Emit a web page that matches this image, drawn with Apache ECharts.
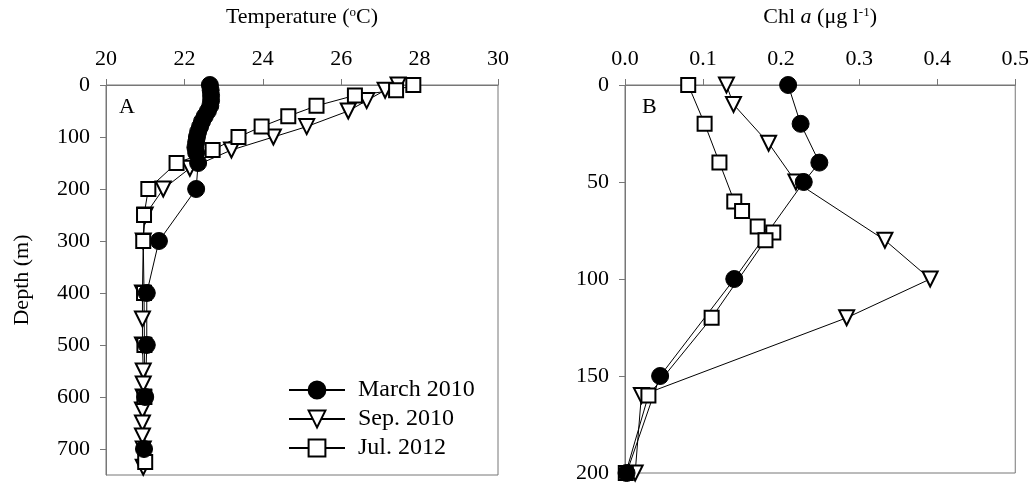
<!DOCTYPE html>
<html>
<head>
<meta charset="utf-8">
<script src="https://cdn.jsdelivr.net/npm/echarts@6/dist/echarts.min.js"></script>
<style>html,body{margin:0;padding:0;background:#fff}#c{width:1032px;height:484px}</style>
</head>
<body>
<div id="c"></div>
<script>
// ---- Data ----
const seriesNames = ['March 2010', 'Sep. 2010', 'Jul. 2012'];
const tempTicks = [20, 22, 24, 26, 28, 30];
const depthTicksA = [0, 100, 200, 300, 400, 500, 600, 700];
const chlTicks = [0.0, 0.1, 0.2, 0.3, 0.4, 0.5];
const depthTicksB = [0, 50, 100, 150, 200];

// Panel A: temperature (°C) vs depth (m)
const marchTemp = [22.65, 22.67, 22.68, 22.68, 22.66, 22.60, 22.52, 22.45, 22.40, 22.35, 22.32, 22.30, 22.28, 22.30, 22.35, 22.30, 21.35, 21.04, 21.04, 21.00, 20.97];
const marchTempDepth = [0, 10, 20, 30, 40, 50, 60, 70, 80, 90, 100, 110, 120, 130, 150, 200, 300, 400, 500, 600, 700];
const sepTemp = [27.45, 27.12, 26.65, 26.18, 25.12, 24.27, 23.20, 22.14, 21.46, 21.00, 20.95, 20.93, 20.93, 20.93, 20.95, 20.95, 20.95, 20.93, 20.93, 20.93, 20.95, 20.95];
const sepTempDepth = [0, 10, 30, 50, 80, 100, 125, 160, 200, 250, 300, 400, 450, 500, 550, 575, 600, 625, 650, 675, 700, 735];
const julTemp = [27.84, 27.40, 26.35, 25.37, 24.65, 23.97, 23.38, 22.72, 21.80, 21.08, 20.97, 20.95, 20.97, 20.98, 20.98, 21.00];
const julTempDepth = [0, 10, 20, 40, 60, 80, 100, 125, 150, 200, 250, 300, 400, 500, 600, 725];

// Panel B: Chl a (µg l-1) vs depth (m)
const marchChl = [0.209, 0.225, 0.249, 0.229, 0.140, 0.045, 0.002];
const marchChlDepth = [0, 20, 40, 50, 100, 150, 200];
const sepChl = [0.130, 0.139, 0.184, 0.219, 0.333, 0.391, 0.284, 0.021, 0.013];
const sepChlDepth = [0, 10, 30, 50, 80, 100, 120, 160, 200];
const julChl = [0.081, 0.102, 0.121, 0.140, 0.150, 0.170, 0.190, 0.180, 0.111, 0.030, 0.001];
const julChlDepth = [0, 20, 40, 60, 65, 73, 76, 80, 120, 160, 200];

// ---- Chart ----
const FONT = 'Liberation Serif';
const AXIS_COLOR = '#777';
const pair = (xs, ys) => xs.map((v, i) => [v, ys[i]]);

const styles = {
  'March 2010': { symbol: 'circle', symbolSize: 17, symbolRotate: 0, fill: '#000' },
  'Sep. 2010': { symbol: 'triangle', symbolSize: 15, symbolRotate: 180, fill: '#fff' },
  'Jul. 2012': { symbol: 'rect', symbolSize: 14, symbolRotate: 0, fill: '#fff' }
};

function mkSeries(name, data, idx) {
  const s = styles[name];
  return {
    name, type: 'line', xAxisIndex: idx, yAxisIndex: idx, data,
    symbol: s.symbol, symbolSize: s.symbolSize, symbolRotate: s.symbolRotate,
    clip: false, animation: false,
    lineStyle: { color: '#000', width: 1 },
    itemStyle: { color: s.fill, borderColor: '#000', borderWidth: s.fill === '#000' ? 1 : 2 },
    emphasis: { disabled: true }
  };
}

const label = { fontFamily: FONT, fontSize: 22, color: '#000' };
const supRich = {
  sup: { fontFamily: FONT, fontSize: 13, color: '#000', padding: [0, 0, 10, 0] },
  it: { fontFamily: FONT, fontSize: 22, fontStyle: 'italic', color: '#000' },
  n: { fontFamily: FONT, fontSize: 22, color: '#000' }
};

function xAxisCfg(idx, min, max, interval, ticks, name, fmt) {
  return {
    type: 'value', gridIndex: idx, position: 'top', min, max, interval,
    name, nameLocation: 'middle', nameGap: 56,
    nameTextStyle: { fontFamily: FONT, fontSize: 22, color: '#000', rich: supRich },
    axisLine: { show: true, lineStyle: { color: AXIS_COLOR, width: 1 } },
    axisTick: { show: true, length: 6, lineStyle: { color: AXIS_COLOR }, customValues: ticks },
    axisLabel: Object.assign({ margin: 15, customValues: ticks, formatter: fmt }, label),
    splitLine: { show: false }
  };
}
function yAxisCfg(idx, min, max, interval, ticks, name) {
  return {
    type: 'value', gridIndex: idx, inverse: true, min, max, interval,
    name, nameLocation: 'middle', nameGap: 73, nameRotate: 90,
    nameTextStyle: { fontFamily: FONT, fontSize: 22, color: '#000' },
    axisLine: { show: true, lineStyle: { color: AXIS_COLOR, width: 1 } },
    axisTick: { show: true, length: 6, lineStyle: { color: AXIS_COLOR }, customValues: ticks },
    axisLabel: Object.assign({ margin: 16, customValues: ticks }, label),
    splitLine: { show: false }
  };
}

const chart = echarts.init(document.getElementById('c'), null, { renderer: 'canvas' });
chart.setOption({
  animation: false,
  backgroundColor: '#fff',
  grid: [
    { left: 106, top: 85, width: 392, height: 390, show: true, borderColor: AXIS_COLOR, borderWidth: 1, backgroundColor: 'transparent' },
    { left: 625, top: 85, width: 393, height: 390, show: true, borderColor: AXIS_COLOR, borderWidth: 1, backgroundColor: 'transparent' }
  ],
  xAxis: [
    xAxisCfg(0, 20, 30, 2, tempTicks, '{n|Temperature (}{sup|o}{n|C)}', v => String(v)),
    xAxisCfg(1, 0, 0.5, 0.1, chlTicks, '{n|Chl }{it|a}{n| (μg l}{sup|-1}{n|)}', v => v.toFixed(1))
  ],
  yAxis: [
    yAxisCfg(0, 0, 750, 100, depthTicksA, 'Depth (m)'),
    yAxisCfg(1, 0, 200, 50, depthTicksB, '')
  ],
  legend: {
    data: seriesNames,
    orient: 'vertical', left: 283, top: 373, itemGap: 5,
    itemWidth: 56, itemHeight: 21,
    textStyle: { fontFamily: FONT, fontSize: 24, color: '#000', padding: [0, 0, 0, 8] },
    selectedMode: false
  },
  graphic: [
    { type: 'text', left: 119, top: 96, style: { text: 'A', fontFamily: FONT, fontSize: 22, fill: '#000' } },
    { type: 'text', left: 642, top: 96, style: { text: 'B', fontFamily: FONT, fontSize: 22, fill: '#000' } }
  ],
  series: [
    mkSeries('Sep. 2010', pair(sepTemp, sepTempDepth), 0),
    mkSeries('Jul. 2012', pair(julTemp, julTempDepth), 0),
    mkSeries('March 2010', pair(marchTemp, marchTempDepth), 0),
    mkSeries('Sep. 2010', pair(sepChl, sepChlDepth), 1),
    mkSeries('Jul. 2012', pair(julChl, julChlDepth), 1),
    mkSeries('March 2010', pair(marchChl, marchChlDepth), 1)
  ]
});
</script>
</body>
</html>
